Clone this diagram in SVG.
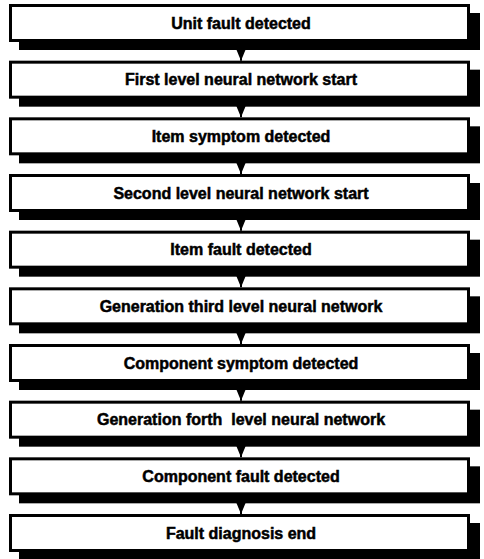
<svg xmlns="http://www.w3.org/2000/svg" width="484" height="559" viewBox="0 0 484 559">
  <style>
    .shadow { fill: #000; }
    .box { fill: #fff; stroke: #000; stroke-width: 3; }
    .label { font-family: "Liberation Sans", Arial, sans-serif; font-weight: bold; font-size: 16px; fill: #000; stroke: #000; stroke-width: 0.5; text-anchor: middle; white-space: pre; }
    .flow { stroke: #000; stroke-width: 2; fill: none; }
  </style>
  <defs>
    <marker id="head" viewBox="0 0 12 10" refX="12" refY="5" markerWidth="12" markerHeight="10" markerUnits="userSpaceOnUse" orient="auto">
      <path d="M0,0 L12,5 L0,10 Z" fill="#000"/>
    </marker>
    <!-- one process step: drop shadow, framed box -->
    <g id="step">
      <rect class="shadow" x="19" y="13" width="461" height="37"/>
      <rect class="box" x="10.5" y="5.5" width="458" height="35"/>
    </g>
  </defs>

  <g id="connectors">
    <path class="flow" d="M241,42 V60.7" marker-end="url(#head)"/>
    <path class="flow" d="M241,98.7 V117.3" marker-end="url(#head)"/>
    <path class="flow" d="M241,155.3 V174" marker-end="url(#head)"/>
    <path class="flow" d="M241,212 V230.7" marker-end="url(#head)"/>
    <path class="flow" d="M241,268.7 V287.3" marker-end="url(#head)"/>
    <path class="flow" d="M241,325.3 V344" marker-end="url(#head)"/>
    <path class="flow" d="M241,382 V400.7" marker-end="url(#head)"/>
    <path class="flow" d="M241,438.7 V457.3" marker-end="url(#head)"/>
    <path class="flow" d="M241,495.3 V514" marker-end="url(#head)"/>
  </g>

  <g id="n1">
    <use href="#step"/>
    <text class="label" x="241" y="28.6">Unit fault detected</text>
  </g>
  <g id="n2" transform="translate(0,56.67)">
    <use href="#step"/>
    <text class="label" x="241" y="28.6">First level neural network start</text>
  </g>
  <g id="n3" transform="translate(0,113.33)">
    <use href="#step"/>
    <text class="label" x="241" y="28.6">Item symptom detected</text>
  </g>
  <g id="n4" transform="translate(0,170)">
    <use href="#step"/>
    <text class="label" x="241" y="28.6">Second level neural network start</text>
  </g>
  <g id="n5" transform="translate(0,226.67)">
    <use href="#step"/>
    <text class="label" x="241" y="28.6">Item fault detected</text>
  </g>
  <g id="n6" transform="translate(0,283.33)">
    <use href="#step"/>
    <text class="label" x="241" y="28.6">Generation third level neural network</text>
  </g>
  <g id="n7" transform="translate(0,340)">
    <use href="#step"/>
    <text class="label" x="241" y="28.6">Component symptom detected</text>
  </g>
  <g id="n8" transform="translate(0,396.67)">
    <use href="#step"/>
    <text class="label" x="241" y="28.6">Generation forth  level neural network</text>
  </g>
  <g id="n9" transform="translate(0,453.33)">
    <use href="#step"/>
    <text class="label" x="241" y="28.6">Component fault detected</text>
  </g>
  <g id="n10" transform="translate(0,510)">
    <use href="#step"/>
    <text class="label" x="241" y="28.6">Fault diagnosis end</text>
  </g>
</svg>
